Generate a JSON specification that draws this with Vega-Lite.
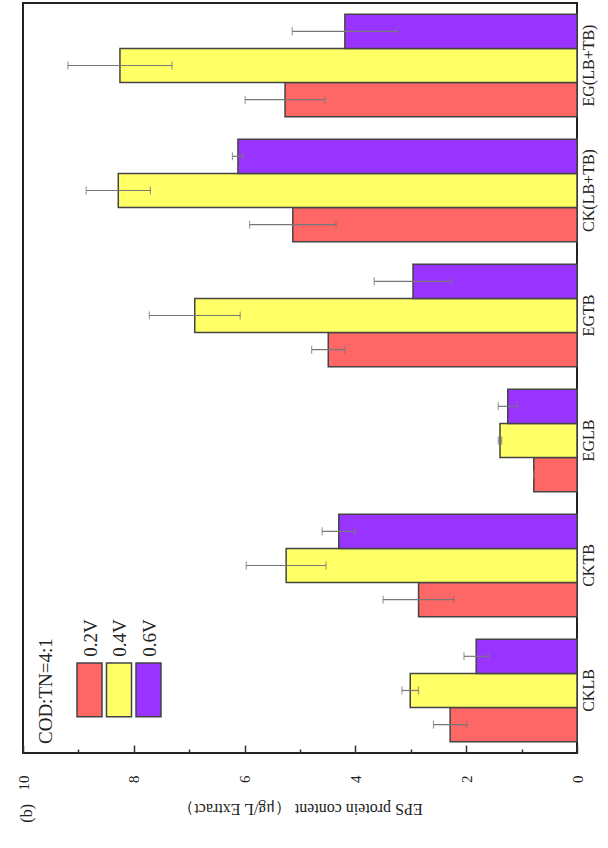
{
  "$schema": "https://vega.github.io/schema/vega-lite/v6.json",
  "width": 554,
  "height": 750,
  "autosize": {"type": "none"},
  "padding": {"left": 23, "top": 3, "right": 31, "bottom": 95},
  "background": "white",
  "title": {"text": "(b)", "orient": "bottom", "anchor": "start", "frame": "group", "angle": -90, "align": "right", "baseline": "middle", "font": "Liberation Serif", "fontSize": 16, "fontWeight": "normal", "color": "#222", "offset": -12, "dy": 4},
  "config": {
    "font": "Liberation Serif",
    "view": {"stroke": "#222", "strokeWidth": 2}
  },
  "data": {"values": [
    {"cat": "EG(LB+TB)", "volt": "0.2V", "value": 5.27, "lo": 4.55, "hi": 5.99},
    {"cat": "EG(LB+TB)", "volt": "0.4V", "value": 8.25, "lo": 7.31, "hi": 9.19},
    {"cat": "EG(LB+TB)", "volt": "0.6V", "value": 4.19, "lo": 3.24, "hi": 5.14},
    {"cat": "CK(LB+TB)", "volt": "0.2V", "value": 5.13, "lo": 4.35, "hi": 5.91},
    {"cat": "CK(LB+TB)", "volt": "0.4V", "value": 8.28, "lo": 7.70, "hi": 8.86},
    {"cat": "CK(LB+TB)", "volt": "0.6V", "value": 6.12, "lo": 6.02, "hi": 6.22},
    {"cat": "EGTB", "volt": "0.2V", "value": 4.49, "lo": 4.19, "hi": 4.79},
    {"cat": "EGTB", "volt": "0.4V", "value": 6.90, "lo": 6.08, "hi": 7.72},
    {"cat": "EGTB", "volt": "0.6V", "value": 2.96, "lo": 2.26, "hi": 3.66},
    {"cat": "EGLB", "volt": "0.2V", "value": 0.78, "lo": 0.78, "hi": 0.78},
    {"cat": "EGLB", "volt": "0.4V", "value": 1.39, "lo": 1.36, "hi": 1.42},
    {"cat": "EGLB", "volt": "0.6V", "value": 1.25, "lo": 1.08, "hi": 1.42},
    {"cat": "CKTB", "volt": "0.2V", "value": 2.86, "lo": 2.22, "hi": 3.50},
    {"cat": "CKTB", "volt": "0.4V", "value": 5.25, "lo": 4.53, "hi": 5.97},
    {"cat": "CKTB", "volt": "0.6V", "value": 4.30, "lo": 4.00, "hi": 4.60},
    {"cat": "CKLB", "volt": "0.2V", "value": 2.29, "lo": 1.99, "hi": 2.59},
    {"cat": "CKLB", "volt": "0.4V", "value": 3.01, "lo": 2.86, "hi": 3.16},
    {"cat": "CKLB", "volt": "0.6V", "value": 1.82, "lo": 1.60, "hi": 2.04}
  ]},
  "encoding": {
    "y": {
      "field": "cat", "type": "nominal",
      "sort": ["EG(LB+TB)", "CK(LB+TB)", "EGTB", "EGLB", "CKTB", "CKLB"],
      "scale": {"paddingInner": 0.18, "paddingOuter": 0.09},
      "axis": {
        "orient": "right", "title": null, "domain": false,
        "labelAngle": -90, "labelAlign": "center", "labelBaseline": "top",
        "labelFontSize": 16, "labelColor": "#222", "labelPadding": 9,
        "tickSize": -6, "tickColor": "#333", "tickWidth": 1.5
      }
    },
    "yOffset": {"field": "volt", "type": "nominal", "sort": ["0.6V", "0.4V", "0.2V"]}
  },
  "layer": [
    {
      "mark": {"type": "bar", "stroke": "#444", "strokeWidth": 1.5},
      "encoding": {
        "x": {
          "field": "value", "type": "quantitative",
          "title": "EPS protein content （μg/L Extract）",
          "scale": {"domain": [0, 10], "reverse": true, "nice": false},
          "axis": {
            "values": [0, 1, 2, 3, 4, 5, 6, 7, 8, 9, 10],
            "labelExpr": "datum.value % 2 === 0 ? datum.label : ''",
            "tickSize": {"condition": {"test": "datum.value % 2 === 0", "value": -8}, "value": -4},
            "tickColor": "#333", "tickWidth": 1.5,
            "domain": false, "grid": false,
            "labelOverlap": false, "labelBound": false, "labelFlush": false,
            "labelAngle": -90, "labelAlign": "right", "labelBaseline": "middle",
            "labelFontSize": 15, "labelColor": "#222", "labelPadding": 30,
            "titleAngle": 180, "titleFontSize": 16, "titleFontWeight": "normal", "titleColor": "#222", "titlePadding": 26
          }
        },
        "color": {
          "field": "volt", "type": "nominal",
          "scale": {"domain": ["0.2V", "0.4V", "0.6V"], "range": ["#ff6666", "#ffff66", "#9933ff"]},
          "legend": {
            "title": "COD:TN=4:1", "orient": "none", "legendX": 14, "legendY": 640,
            "direction": "horizontal",
            "titleOrient": "left", "titleAnchor": "end",
            "titleFontSize": 19, "titleFontWeight": "normal", "titleColor": "#222", "titlePadding": 0,
            "labelAlign": "left", "labelBaseline": "middle", "labelOffset": -12.5,
            "labelFontSize": 19, "labelColor": "#222",
            "symbolType": "M-1,0.5L1,0.5L1,4.8L-1,4.8Z", "symbolSize": 625,
            "symbolStrokeColor": "#444", "symbolStrokeWidth": 1.5, "symbolOpacity": 1,
            "columnPadding": -1.5,
            "encode": {
              "labels": {"update": {"angle": {"value": -90}}},
              "title": {"update": {"angle": {"value": -90}, "dx": {"value": -24}}}
            }
          }
        }
      }
    },
    {
      "mark": {"type": "rule", "color": "#777", "strokeWidth": 1.2},
      "encoding": {
        "x": {"field": "lo", "type": "quantitative", "title": "EPS protein content （μg/L Extract）"},
        "x2": {"field": "hi"}
      }
    },
    {
      "mark": {"type": "tick", "color": "#777", "size": 8, "thickness": 1.2},
      "encoding": {"x": {"field": "lo", "type": "quantitative", "title": "EPS protein content （μg/L Extract）"}}
    },
    {
      "mark": {"type": "tick", "color": "#777", "size": 8, "thickness": 1.2},
      "encoding": {"x": {"field": "hi", "type": "quantitative", "title": "EPS protein content （μg/L Extract）"}}
    }
  ]
}
